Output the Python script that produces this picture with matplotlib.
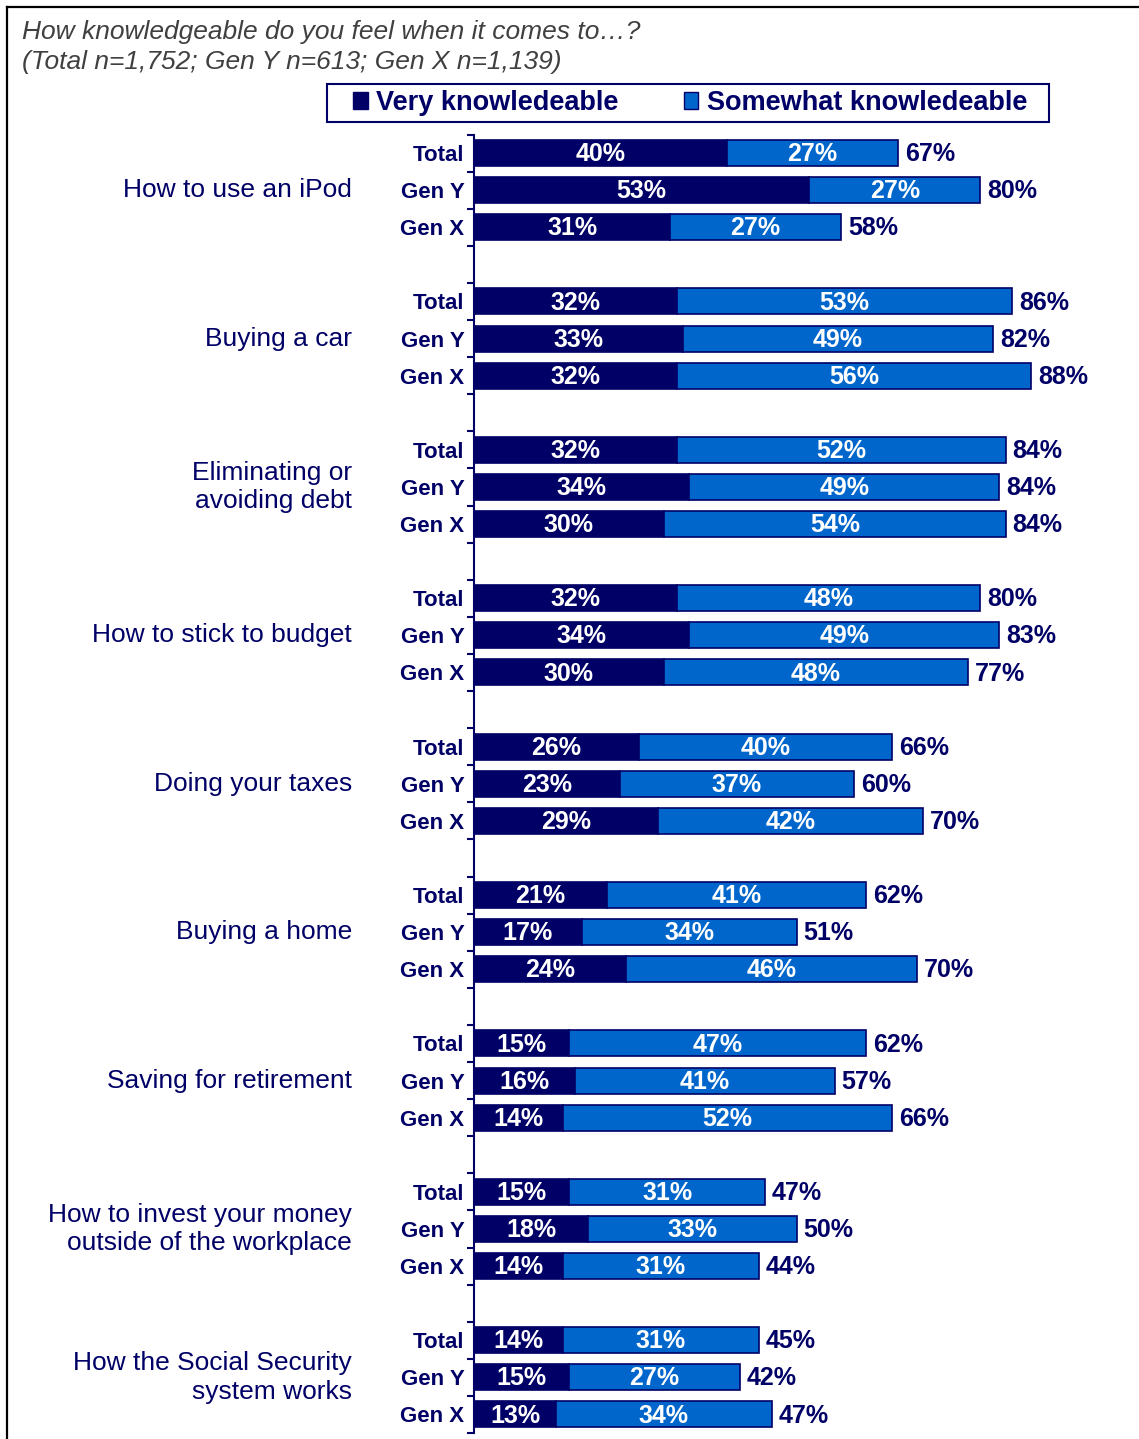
import matplotlib
matplotlib.use("Agg")
import matplotlib.pyplot as plt  # Plotting
from matplotlib.patches import Patch, Rectangle
from matplotlib.lines import Line2D
import matplotlib.transforms as mtransforms

plt.rcParams['font.family'] = ['Liberation Sans', 'DejaVu Sans']

# Survey data
topics = ["How to use an iPod", "Buying a car", "Eliminating or\navoiding debt",
          "How to stick to budget", "Doing your taxes", "Buying a home",
          "Saving for retirement", "How to invest your money\noutside of the workplace",
          "How the Social Security\nsystem works"]
groups = ["Total", "Gen Y", "Gen X"]
very = [[40, 53, 31], [32, 33, 32], [32, 34, 30], [32, 34, 30], [26, 23, 29],
        [21, 17, 24], [15, 16, 14], [15, 18, 14], [14, 15, 13]]
somewhat = [[27, 27, 27], [53, 49, 56], [52, 49, 54], [48, 49, 48], [40, 37, 42],
            [41, 34, 46], [47, 41, 52], [31, 33, 31], [31, 27, 34]]
totals = [[67, 80, 58], [86, 82, 88], [84, 84, 84], [80, 83, 77], [66, 60, 70],
          [62, 51, 70], [62, 57, 66], [47, 50, 44], [45, 42, 47]]

navy = '#000066'
blue = '#0066CC'
W, H = 1139, 1439

fig = plt.figure(figsize=(W / 100, H / 100), dpi=100)
ax = fig.add_axes([474 / W, 1 - 1433 / H, 633 / W, (1433 - 134.5) / H])

# Each topic takes 4 rows: three bars and a blank row
ypos, ylabels = [], []
for g in range(len(topics)):
    for r in range(3):
        y = 4 * g + r
        v, s, t = very[g][r], somewhat[g][r], totals[g][r]
        ax.barh(y, v, height=0.7, color=navy, edgecolor=navy, linewidth=1.2)
        ax.barh(y, s, left=v, height=0.7, color=blue, edgecolor=navy, linewidth=1.2)
        ax.text(v / 2, y + 0.03, f"{v}%", ha='center', va='center', color='white',
                fontsize=18, fontweight='bold')
        ax.text(v + s / 2, y + 0.03, f"{s}%", ha='center', va='center', color='white',
                fontsize=18, fontweight='bold')
        ax.annotate(f"{t}%", xy=(v + s, y + 0.03), xytext=(5, 0), textcoords='offset points',
                    ha='left', va='center', color=navy, fontsize=18, fontweight='bold')
        ypos.append(y)
        ylabels.append(groups[r])

ax.set_xlim(0, 100)
ax.set_ylim(34.5, -0.5)
ax.set_yticks(ypos)
ax.set_yticklabels(ylabels, fontsize=16, fontweight='bold', color=navy)
ax.set_yticks([i - 0.5 for i in range(36)], minor=True)
ax.tick_params(axis='y', which='major', length=0, pad=7)
ax.tick_params(axis='y', which='minor', length=5, width=1.5, color=navy, direction='out')
ax.set_xticks([])
for side in ['top', 'right', 'bottom']:
    ax.spines[side].set_visible(False)
ax.spines['left'].set_color(navy)
ax.spines['left'].set_linewidth(1.5)

# Topic names to the left of the group labels
trans = mtransforms.blended_transform_factory(fig.transFigure, ax.transData)
for g, name in enumerate(topics):
    ax.text(352 / W, 4 * g + 1, name, transform=trans, ha='right', va='center',
            fontsize=19, color=navy, linespacing=1.25)

# Question text
fig.text(22 / W, 1 - 39.5 / H, "How knowledgeable do you feel when it comes to\u2026?",
         fontsize=19, style='italic', color='#404040', va='baseline')
fig.text(22 / W, 1 - 69.5 / H, "(Total n=1,752; Gen Y n=613; Gen X n=1,139)",
         fontsize=19, style='italic', color='#404040', va='baseline')

# Legend inside a separate header box
fig.add_artist(Rectangle((327 / W, 1 - 122 / H), 722 / W, 38 / H, transform=fig.transFigure,
                         facecolor='none', edgecolor=navy, linewidth=1.5))
handles = [Patch(facecolor=navy, edgecolor=navy), Patch(facecolor=blue, edgecolor=navy)]
fig.legend(handles, ["Very knowledeable", "Somewhat knowledeable"], ncol=2,
           loc='center', bbox_to_anchor=(690 / W, 1 - 103 / H),
           prop={'size': 19.5, 'weight': 'bold'}, labelcolor=navy,
           handlelength=0.55, handleheight=0.55, handletextpad=0.3,
           columnspacing=2.4, borderpad=0.2, borderaxespad=0, frameon=False)

# Outer frame lines
fig.add_artist(Line2D([7 / W, 7 / W], [0, 1 - 7 / H], color='black', lw=1.6))
fig.add_artist(Line2D([7 / W, 1], [1 - 7 / H, 1 - 7 / H], color='black', lw=1.6))

fig.savefig("out.png", dpi=100)
